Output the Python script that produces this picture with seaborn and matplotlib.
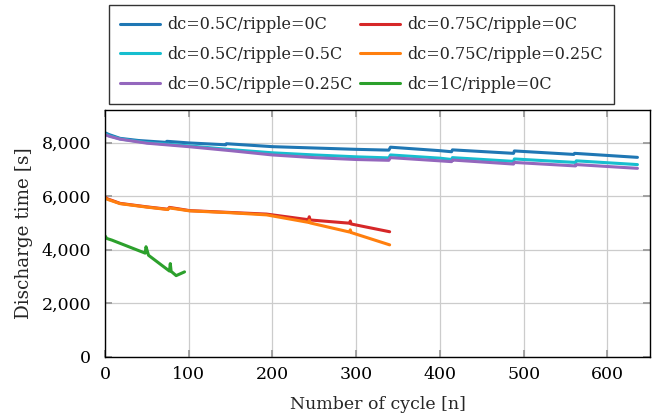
import pandas as pd
import matplotlib
matplotlib.use("Agg")
import matplotlib.pyplot as plt
import matplotlib.ticker as mticker
import seaborn as sns

# ==========================================
# Data
# ==========================================

labels = [
    "dc=0.5C/ripple=0C",
    "dc=0.5C/ripple=0.5C",
    "dc=0.5C/ripple=0.25C",
    "dc=0.75C/ripple=0C",
    "dc=0.75C/ripple=0.25C",
    "dc=1C/ripple=0C",
]
colors = ["#1f77b4", "#17becf", "#9467bd", "#d62728", "#ff7f0e", "#2ca02c"]

cyc_05_0 = [0, 5, 18, 40, 73, 74, 100, 144, 145, 200, 250, 300, 339, 341,
            400, 414, 415, 488, 489, 560, 561, 636]
t_05_0 = [8370, 8300, 8160, 8080, 8010, 8050, 7990, 7920, 7960, 7850, 7800,
          7750, 7720, 7830, 7700, 7660, 7730, 7600, 7690, 7560, 7600, 7450]

cyc_05_05 = [0, 5, 18, 50, 100, 150, 200, 250, 300, 339, 341, 400, 414, 415,
             488, 489, 562, 563, 636]
t_05_05 = [8330, 8260, 8140, 8000, 7880, 7740, 7620, 7540, 7470, 7430, 7540,
           7420, 7370, 7440, 7300, 7390, 7260, 7320, 7180]

cyc_05_025 = [0, 5, 18, 50, 100, 150, 200, 250, 300, 339, 341, 400, 414, 415,
              488, 489, 562, 563, 636]
t_05_025 = [8300, 8240, 8130, 7980, 7850, 7700, 7540, 7440, 7370, 7340, 7440,
            7320, 7290, 7350, 7200, 7260, 7130, 7180, 7040]

cyc_075_0 = [0, 3, 18, 50, 75, 77, 101, 150, 193, 243, 244, 245, 292, 293,
             294, 340]
t_075_0 = [5960, 5900, 5730, 5600, 5510, 5580, 5460, 5390, 5330, 5120, 5230,
           5110, 4990, 5070, 4960, 4670]

cyc_075_025 = [0, 3, 18, 50, 75, 77, 101, 150, 193, 243, 244, 245, 292, 293,
               294, 340]
t_075_025 = [5940, 5880, 5720, 5590, 5500, 5560, 5450, 5380, 5300, 5020, 5100,
             5000, 4660, 4740, 4640, 4180]

cyc_1_0 = [0, 2, 8, 48, 49, 52, 77, 78, 79, 85, 95]
t_1_0 = [4520, 4420, 4360, 3870, 4110, 3790, 3200, 3480, 3190, 3030, 3170]

cycles = [cyc_05_0, cyc_05_05, cyc_05_025, cyc_075_0, cyc_075_025, cyc_1_0]
times = [t_05_0, t_05_05, t_05_025, t_075_0, t_075_025, t_1_0]

frames = []
for lab, c, t in zip(labels, cycles, times):
    frames.append(pd.DataFrame({"cycle": c, "time": t, "series": lab}))
df = pd.concat(frames, ignore_index=True)

# ==========================================
# Plot
# ==========================================

sns.set_theme(style="whitegrid")
plt.rcParams["font.family"] = ["DejaVu Serif"]
plt.rcParams["mathtext.fontset"] = "dejavuserif"

fig = plt.figure(figsize=(6.56, 4.17), dpi=100)
ax = fig.add_axes([105 / 656, 1 - 356.7 / 417, (650 - 105) / 656, (356.7 - 110) / 417])

sns.lineplot(
    data=df,
    x="cycle",
    y="time",
    hue="series",
    hue_order=labels,
    palette=colors,
    sort=False,
    estimator=None,
    linewidth=2.2,
    ax=ax,
    legend=False,
)

ax.set_xlim(0, 651)
ax.set_ylim(0, 9220)
ax.set_xticks([0, 100, 200, 300, 400, 500, 600])
ax.set_yticks([0, 2000, 4000, 6000, 8000])
ax.yaxis.set_major_formatter(mticker.FuncFormatter(lambda v, p: f"{int(v):,}"))

ax.set_facecolor("white")
ax.grid(True, color="#cccccc", linewidth=0.9)
for s in ax.spines.values():
    s.set_visible(True)
    s.set_color("black")
    s.set_linewidth(1.0)

ax.tick_params(axis="both", which="both", direction="in", length=5,
               color="#999999", labelsize=12.5, labelcolor="black",
               top=True, right=True, bottom=True, left=True)
ax.tick_params(axis="x", pad=7)
ax.tick_params(axis="y", pad=10)

ax.set_xlabel("Number of cycle [n]", fontsize=12.5, labelpad=9)
ax.set_ylabel("Discharge time [s]", fontsize=13.2, labelpad=6)

handles = [plt.Line2D([], [], color=c, linewidth=2.2) for c in colors]
leg = fig.legend(
    handles,
    labels,
    ncol=2,
    loc="upper center",
    bbox_to_anchor=(361.5 / 656, 1 - 5 / 417),
    borderaxespad=0,
    fontsize=11.5,
    frameon=True,
    fancybox=False,
    edgecolor="black",
    handlelength=2.5,
    handletextpad=0.45,
    labelspacing=0.8,
    columnspacing=0.45,
    borderpad=0.7,
)
leg.get_frame().set_linewidth(1.0)

fig.savefig("out.png", dpi=100)
